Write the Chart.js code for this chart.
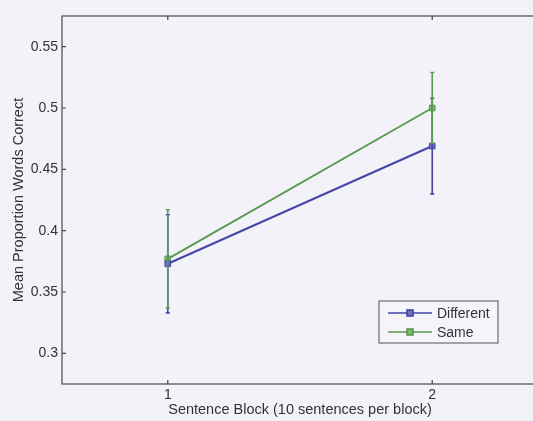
<!DOCTYPE html>
<html lang="en">
  <head>
    <meta charset="UTF-8" />
    <title>Mean Proportion Words Correct</title>
    <script src="https://cdn.jsdelivr.net/npm/chart.js@4.4.1/dist/chart.umd.min.js"></script>
    <style>
      html, body { margin: 0; padding: 0; overflow: hidden; background: #f2f2f8; }
      #wrap { width: 560px; height: 421px; }
    </style>
  </head>
  <body>
    <div id="wrap"><canvas id="chart" width="560" height="421"></canvas></div>

    <script>
      const blocks = [1, 2];
      const different = [0.373, 0.469];
      const differentErr = [0.04, 0.039];
      const same = [0.377, 0.5];
      const sameErr = [0.04, 0.029];
      const xTicks = [1, 2];
      const yTicks = [0.3, 0.35, 0.4, 0.45, 0.5, 0.55];

      const ink = "#4a4a4a";
      const textInk = "#333";
      const blue = "#4545a8";
      const green = "#5b9a52";
      const font = { family: "Liberation Sans, Arial, sans-serif", size: 14 };
      const titleFont = { family: "Liberation Sans, Arial, sans-serif", size: 14.5 };

      // vertical error bars with small caps
      const errorBars = {
        id: "errorBars",
        afterDatasetsDraw(chart) {
          const ctx = chart.ctx;
          const x = chart.scales.x, y = chart.scales.y;
          chart.data.datasets.forEach((ds) => {
            ctx.save();
            ctx.strokeStyle = ds.borderColor;
            ctx.lineWidth = 1.6;
            ds.data.forEach((p, i) => {
              const px = x.getPixelForValue(p.x);
              const top = y.getPixelForValue(p.y + ds.err[i]);
              const bot = y.getPixelForValue(p.y - ds.err[i]);
              ctx.beginPath();
              ctx.moveTo(px, top); ctx.lineTo(px, bot);
              ctx.moveTo(px - 2, top); ctx.lineTo(px + 2, top);
              ctx.moveTo(px - 2, bot); ctx.lineTo(px + 2, bot);
              ctx.stroke();
            });
            ctx.restore();
          });
        },
      };

      // box around the axes with inward ticks, plus a legend inside
      const frame = {
        id: "frame",
        afterDraw(chart) {
          const ctx = chart.ctx;
          const a = chart.chartArea;
          const x = chart.scales.x, y = chart.scales.y;
          ctx.save();
          ctx.strokeStyle = ink;
          ctx.lineWidth = 1.2;
          ctx.strokeRect(a.left, a.top, a.right - a.left, a.bottom - a.top);
          ctx.beginPath();
          xTicks.forEach((v) => {
            const px = x.getPixelForValue(v);
            ctx.moveTo(px, a.bottom); ctx.lineTo(px, a.bottom - 4);
            ctx.moveTo(px, a.top); ctx.lineTo(px, a.top + 4);
          });
          yTicks.forEach((v) => {
            const py = y.getPixelForValue(v);
            ctx.moveTo(a.left, py); ctx.lineTo(a.left + 4, py);
            ctx.moveTo(a.right, py); ctx.lineTo(a.right - 4, py);
          });
          ctx.stroke();

          // legend
          const bx = a.right - 159, by = a.bottom - 83, bw = 119, bh = 42;
          ctx.fillStyle = "#f4f4f9";
          ctx.fillRect(bx, by, bw, bh);
          ctx.lineWidth = 1;
          ctx.strokeStyle = "#555";
          ctx.strokeRect(bx, by, bw, bh);
          ctx.font = font.size + "px " + font.family;
          ctx.textBaseline = "middle";
          chart.data.datasets.forEach((ds, i) => {
            const ly = by + 12 + i * 19;
            ctx.strokeStyle = ds.borderColor;
            ctx.lineWidth = 1.6;
            ctx.beginPath();
            ctx.moveTo(bx + 9, ly); ctx.lineTo(bx + 53, ly);
            ctx.stroke();
            ctx.fillStyle = ds.backgroundColor;
            ctx.fillRect(bx + 28, ly - 3, 6, 6);
            ctx.strokeRect(bx + 28, ly - 3, 6, 6);
            ctx.fillStyle = textInk;
            ctx.fillText(ds.label, bx + 58, ly + 1);
          });
          ctx.restore();
        },
      };

      const ctx = document.getElementById("chart").getContext("2d");
      new Chart(ctx, {
        type: "line",
        data: {
          datasets: [
            {
              label: "Different",
              data: blocks.map((b, i) => ({ x: b, y: different[i] })),
              err: differentErr,
              borderColor: blue,
              backgroundColor: "#6f6fc0",
              borderWidth: 2,
              pointStyle: "rect",
              pointRadius: 4,
              pointBorderWidth: 1,
            },
            {
              label: "Same",
              data: blocks.map((b, i) => ({ x: b, y: same[i] })),
              err: sameErr,
              borderColor: green,
              backgroundColor: "#7fb277",
              borderWidth: 2,
              pointStyle: "rect",
              pointRadius: 4,
              pointBorderWidth: 1,
            },
          ],
        },
        options: {
          responsive: false,
          animation: false,
          layout: { padding: { top: 16, right: 22, left: 0, bottom: 0 } },
          plugins: { legend: { display: false }, tooltip: { enabled: false } },
          scales: {
            x: {
              type: "linear",
              min: 0.6,
              max: 2.4,
              afterBuildTicks: (s) => { s.ticks = xTicks.map((v) => ({ value: v })); },
              afterFit: (s) => { s.height = 37; },
              grid: { display: false, drawTicks: false },
              border: { display: false },
              ticks: { color: textInk, font: font, padding: 3, callback: (v) => String(v) },
              title: {
                display: true,
                text: "Sentence Block (10 sentences per block)",
                color: textInk,
                font: titleFont,
                padding: { top: 0, bottom: 2 },
              },
            },
            y: {
              min: 0.275,
              max: 0.575,
              afterBuildTicks: (s) => { s.ticks = yTicks.map((v) => ({ value: v })); },
              afterFit: (s) => { s.width = 62; },
              grid: { display: false, drawTicks: false },
              border: { display: false },
              ticks: { color: textInk, font: font, padding: 4, callback: (v) => String(v) },
              title: {
                display: true,
                text: "Mean Proportion Words Correct",
                color: textInk,
                font: titleFont,
                padding: { top: 10, bottom: 0 },
              },
            },
          },
        },
        plugins: [errorBars, frame],
      });
    </script>
  </body>
</html>
